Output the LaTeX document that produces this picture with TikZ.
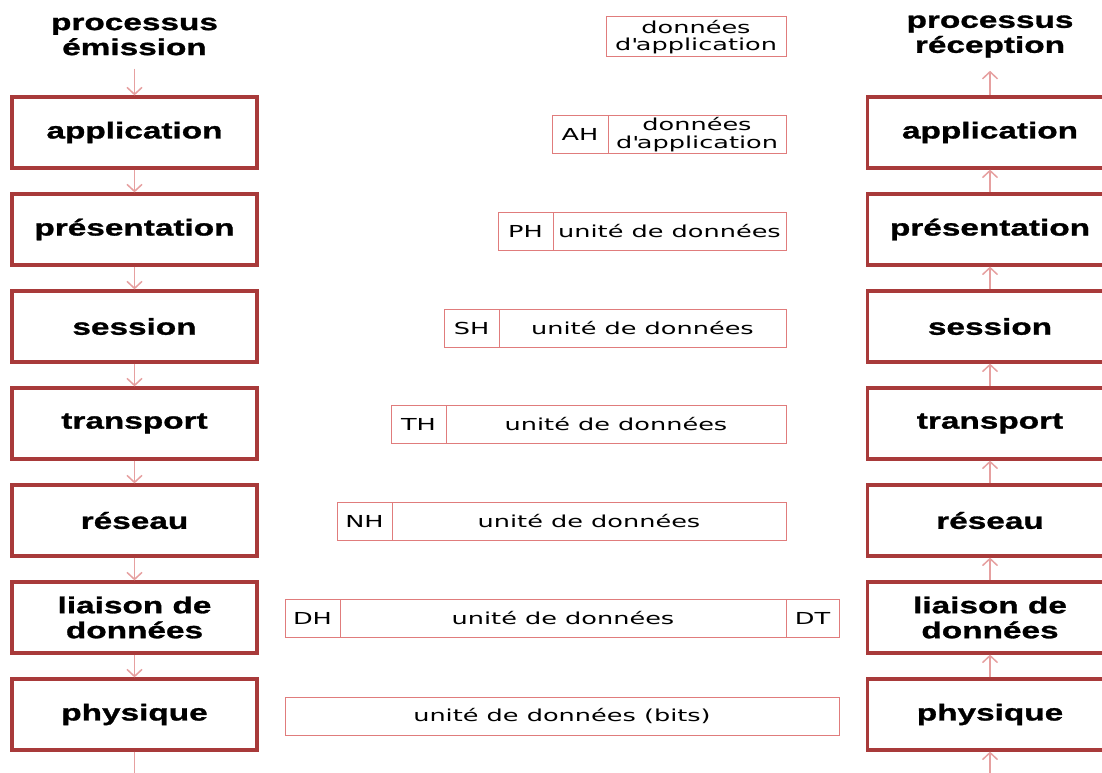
\documentclass[tikz,border=0pt]{standalone}
\usepackage{fontspec}
\usetikzlibrary{positioning,arrows.meta}

\newfontfamily\layerfont{Liberation Sans}[FakeStretch=1.45, FakeBold=1.2]
\newfontfamily\pdufont{DejaVu Sans}[FakeStretch=1.55]

\definecolor{layerred}{HTML}{A83A3A}
\definecolor{flowpink}{HTML}{E6A0A0}
\definecolor{pdured}{HTML}{E07C7C}

\tikzset{
  layerbox/.style={draw=layerred, line width=3.2pt, minimum width=245pt, minimum height=71pt,
    inner sep=0pt, outer sep=0pt, align=center,
    font=\layerfont\bfseries\fontsize{23}{25}\selectfont},
  proctitle/.style={inner sep=0pt, align=center,
    font=\layerfont\bfseries\fontsize{23}{25}\selectfont},
  pdu/.style={draw=pdured, line width=1pt, minimum height=38pt, inner sep=0pt, outer sep=0pt,
    align=center, font=\pdufont\fontsize{16.5}{17.5}\selectfont},
  flow/.style={draw=flowpink, line width=1.5pt, -{Straight Barb[length=7pt,width=15pt]}},
  flowend/.style={draw=flowpink, line width=1.5pt}
}

\begin{document}
\begin{tikzpicture}[x=1pt,y=-1pt]
  \path[use as bounding box, clip] (0,0) rectangle (1102,773);
  {
  % Sending side: title and layers
  \node[proctitle] (tsend) at (134.5,36.5) {processus\\émission};
  \node[layerbox] (send1) at (134.5,132.5) {application};
  \node[layerbox] (send2) at (134.5,229.5) {présentation};
  \node[layerbox] (send3) at (134.5,326.5) {session};
  \node[layerbox] (send4) at (134.5,423.5) {transport};
  \node[layerbox] (send5) at (134.5,520.5) {réseau};
  \node[layerbox] (send6) at (134.5,617.5) {liaison de\\données};
  \node[layerbox] (send7) at (134.5,714.5) {physique};
  \coordinate (sendout) at (134.5,773);

  % Receiving side: title and layers
  \node[proctitle] (trecv) at (990,36.5) {processus\\réception};
  \node[layerbox] (recv1) at (990,132.5) {application};
  \node[layerbox] (recv2) at (990,229.5) {présentation};
  \node[layerbox] (recv3) at (990,326.5) {session};
  \node[layerbox] (recv4) at (990,423.5) {transport};
  \node[layerbox] (recv5) at (990,520.5) {réseau};
  \node[layerbox] (recv6) at (990,617.5) {liaison de\\données};
  \node[layerbox] (recv7) at (990,714.5) {physique};
  \coordinate (recvin) at (990,773);

  % Flow down the sending stack
  \draw[flow, shorten >=1.6pt] ([yshift=-13pt]tsend.south) -- (send1.north);
  \draw[flow, shorten >=1.6pt, shorten <=1.6pt] (send1) -- (send2);
  \draw[flow, shorten >=1.6pt, shorten <=1.6pt] (send2) -- (send3);
  \draw[flow, shorten >=1.6pt, shorten <=1.6pt] (send3) -- (send4);
  \draw[flow, shorten >=1.6pt, shorten <=1.6pt] (send4) -- (send5);
  \draw[flow, shorten >=1.6pt, shorten <=1.6pt] (send5) -- (send6);
  \draw[flow, shorten >=1.6pt, shorten <=1.6pt] (send6) -- (send7);
  \draw[flowend, shorten <=1.6pt] (send7.south) -- (sendout);

  % Flow up the receiving stack
  \draw[flow, shorten <=1.6pt] (recv1.north) -- ([yshift=-13pt]trecv.south);
  \draw[flow, shorten >=1.6pt, shorten <=1.6pt] (recv2) -- (recv1);
  \draw[flow, shorten >=1.6pt, shorten <=1.6pt] (recv3) -- (recv2);
  \draw[flow, shorten >=1.6pt, shorten <=1.6pt] (recv4) -- (recv3);
  \draw[flow, shorten >=1.6pt, shorten <=1.6pt] (recv5) -- (recv4);
  \draw[flow, shorten >=1.6pt, shorten <=1.6pt] (recv6) -- (recv5);
  \draw[flow, shorten >=1.6pt, shorten <=1.6pt] (recv7) -- (recv6);
  \draw[flow, shorten >=1.6pt] (recvin) -- (recv7.south);

  % Data units, one row per layer
  \node[pdu, minimum width=180pt, minimum height=40pt, anchor=east] (data0) at (786,37)
    {données\\d\textquotesingle application};

  \node[pdu, minimum width=178pt, anchor=east] (data1) at (786,134.5)
    {données\\d\textquotesingle application};
  \node[pdu, minimum width=56pt, left=0pt of data1] (hdrAH) {AH};

  \node[pdu, minimum width=233pt, anchor=east] (data2) at (786,231) {unité de données};
  \node[pdu, minimum width=55pt, left=0pt of data2] (hdrPH) {PH};

  \node[pdu, minimum width=287pt, anchor=east] (data3) at (786,328) {unité de données};
  \node[pdu, minimum width=55pt, left=0pt of data3] (hdrSH) {SH};

  \node[pdu, minimum width=340pt, anchor=east] (data4) at (786,424.5) {unité de données};
  \node[pdu, minimum width=55pt, left=0pt of data4] (hdrTH) {TH};

  \node[pdu, minimum width=394pt, anchor=east] (data5) at (786,521.5) {unité de données};
  \node[pdu, minimum width=55pt, left=0pt of data5] (hdrNH) {NH};

  \node[pdu, minimum width=446pt, anchor=east] (data6) at (786,618.5) {unité de données};
  \node[pdu, minimum width=55pt, left=0pt of data6] (hdrDH) {DH};
  \node[pdu, minimum width=53pt, right=0pt of data6] (trlDT) {DT};

  \node[pdu, minimum width=554pt] (bits) at (562,716) {unité de données (bits)};
  }
\end{tikzpicture}
\end{document}
